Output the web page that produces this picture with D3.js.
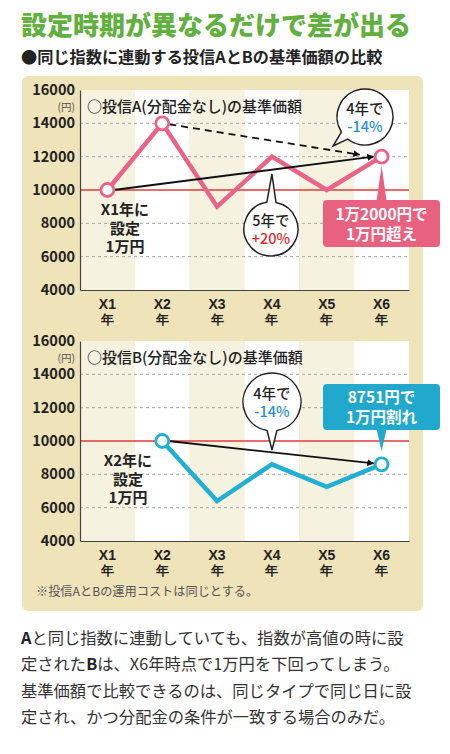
<!DOCTYPE html>
<html>
<head>
<meta charset="utf-8">
<script src="https://cdn.jsdelivr.net/npm/d3@7"></script>
<style>
  body { margin: 0; background: #fff; }
  svg { display: block; font-family: "Noto Sans CJK JP", "Noto Sans", sans-serif; }
</style>
</head>
<body>
<script>
// data
const years = ["X1", "X2", "X3", "X4", "X5", "X6"];
const yTicks = [4000, 6000, 8000, 10000, 12000, 14000, 16000];
const gridValues = [6000, 8000, 12000, 14000];
const fundA = [10000, 14000, 9000, 12000, 10000, 12000];
const fundB = [null, 10000, 6400, 8600, 7250, 8600];
const bodyLines = [
  ["A", "と同じ指数に連動していても、指数が高値の時に設"],
  ["", "定された", "B", "は、X6年時点で1万円を下回ってしまう。"],
  ["", "基準価額で比較できるのは、同じタイプで同じ日に設"],
  ["", "定され、かつ分配金の条件が一致する場合のみだ。"]
];

const W = 450, H = 754;
const pink = "#ea6487", blue = "#22b0d2", red = "#e23b3b";

function main() {
  let svg = d3.select("body").append("svg")
    .attr("width", W)
    .attr("height", H);

  let defs = svg.append("defs");
  defs.append("marker")
    .attr("id", "arr")
    .attr("viewBox", "0 0 10 10")
    .attr("refX", 9).attr("refY", 5)
    .attr("markerWidth", 7).attr("markerHeight", 7)
    .attr("markerUnits", "userSpaceOnUse")
    .attr("orient", "auto")
    .append("path")
    .attr("d", "M0,0 L10,5 L0,10 z")
    .attr("fill", "#111");

  // headline
  svg.append("text")
    .attr("x", 21).attr("y", 35)
    .attr("font-size", 26).attr("font-weight", 900)
    .attr("fill", "#62b140")
    .text("設定時期が異なるだけで差が出る");

  svg.append("text")
    .attr("x", 21).attr("y", 63)
    .attr("font-size", 16.2).attr("font-weight", 700)
    .attr("fill", "#222")
    .text("●同じ指数に連動する投信AとBの基準価額の比較");

  // panel
  svg.append("rect")
    .attr("x", 22).attr("y", 76)
    .attr("width", 401).attr("height", 535)
    .attr("rx", 6)
    .attr("fill", "#efe3b9");

  let xScale = d3.scaleBand().domain(years).range([80, 409]);

  function drawChart(top, values, color, title) {
    let yScale = d3.scaleLinear().domain([4000, 16000]).range([top + 200, top]);
    let g = svg.append("g");

    // stripes
    g.selectAll("rect.stripe")
      .data(years)
      .enter()
      .append("rect")
      .attr("x", d => xScale(d))
      .attr("y", yScale(16000))
      .attr("width", xScale.bandwidth())
      .attr("height", yScale(4000) - yScale(16000))
      .attr("fill", (d, i) => i % 2 === 0 ? "#f6f2e0" : "#ffffff");

    // dashed grid
    g.selectAll("line.grid")
      .data(gridValues)
      .enter()
      .append("line")
      .attr("x1", 80).attr("x2", 409)
      .attr("y1", d => yScale(d)).attr("y2", d => yScale(d))
      .attr("stroke", "#a8a8a8")
      .attr("stroke-width", 1)
      .attr("stroke-dasharray", "3,3");

    // 10000 line
    g.append("line")
      .attr("x1", 80).attr("x2", 409)
      .attr("y1", yScale(10000)).attr("y2", yScale(10000))
      .attr("stroke", red).attr("stroke-width", 1.6);

    // axes
    let yAxis = g.append("g")
      .attr("transform", "translate(80,0)")
      .call(d3.axisLeft(yScale).tickValues(yTicks).tickSize(0).tickPadding(5).tickFormat(d3.format("d")));
    yAxis.select(".domain").attr("stroke", "#444").attr("stroke-width", 1.2);
    yAxis.selectAll("text")
      .attr("font-size", 14.5).attr("font-weight", 700)
      .attr("fill", "#222")
      .attr("font-family", "\"Noto Sans CJK JP\", sans-serif");

    g.append("text")
      .attr("x", 75).attr("y", yScale(16000) + 21)
      .attr("text-anchor", "end")
      .attr("font-size", 10.5).attr("fill", "#555")
      .text("(円)");

    let xAxis = g.append("g")
      .attr("transform", "translate(0," + yScale(4000) + ")")
      .call(d3.axisBottom(xScale).tickSize(0).tickSizeOuter(0).tickFormat(""));
    xAxis.select(".domain").attr("stroke", "#444").attr("stroke-width", 1.2);
    xAxis.selectAll(".tick").append("text")
      .attr("text-anchor", "middle")
      .attr("font-size", 14).attr("font-weight", 700)
      .attr("fill", "#222")
      .attr("y", 19)
      .text(d => d);
    xAxis.selectAll(".tick").append("text")
      .attr("text-anchor", "middle")
      .attr("font-size", 13).attr("font-weight", 700)
      .attr("fill", "#222")
      .attr("y", 34)
      .text("年");

    g.append("text")
      .attr("x", 87).attr("y", yScale(16000) + 22)
      .attr("font-size", 15).attr("font-weight", 500)
      .attr("fill", "#222")
      .text(title);

    let pts = years.map((d, i) => ({ year: d, v: values[i] })).filter(d => d.v !== null);
    let line = d3.line()
      .x(d => xScale(d.year) + xScale.bandwidth() / 2)
      .y(d => yScale(d.v));

    g.append("path")
      .datum(pts)
      .attr("d", line)
      .attr("fill", "none")
      .attr("stroke", color)
      .attr("stroke-width", 4.5)
      .attr("stroke-linejoin", "miter");

    return { g: g, y: yScale, pts: pts };
  }

  function cx(year) { return xScale(year) + xScale.bandwidth() / 2; }

  function markers(g, yScale, list, color) {
    g.selectAll("circle.m")
      .data(list)
      .enter()
      .append("circle")
      .attr("cx", d => cx(d.year))
      .attr("cy", d => yScale(d.v))
      .attr("r", 6.5)
      .attr("fill", "#fff")
      .attr("stroke", color)
      .attr("stroke-width", 2.8);
  }

  function arrow(g, x1, y1, x2, y2, dashed) {
    g.append("line")
      .attr("x1", x1).attr("y1", y1)
      .attr("x2", x2).attr("y2", y2)
      .attr("stroke", "#111").attr("stroke-width", 1.8)
      .attr("stroke-dasharray", dashed ? "7,5" : null)
      .attr("marker-end", "url(#arr)");
  }

  function bubble(g, x, y, r, tx, ty, l1, l2, c2) {
    let th = Math.atan2(ty - y, tx - x);
    let dl = 0.17;
    let p1 = [x + r * Math.cos(th + dl), y + r * Math.sin(th + dl)];
    let p2 = [x + r * Math.cos(th - dl), y + r * Math.sin(th - dl)];
    g.append("path")
      .attr("d", "M" + p1 + " A" + r + "," + r + " 0 1,1 " + p2 + " L" + tx + "," + ty + " Z")
      .attr("fill", "#fff")
      .attr("stroke", "#222")
      .attr("stroke-width", 1.5);
    g.append("text")
      .attr("x", x).attr("y", y - 3)
      .attr("text-anchor", "middle")
      .attr("font-size", 14.5).attr("font-weight", 500)
      .attr("fill", "#222")
      .text(l1);
    g.append("text")
      .attr("x", x).attr("y", y + 15)
      .attr("text-anchor", "middle")
      .attr("font-size", 14.5).attr("font-weight", 500)
      .attr("fill", c2)
      .text(l2);
  }

  function callout(g, x, y, w, h, tipX, tipY, color, l1, l2) {
    let up = tipY < y;
    let baseY = up ? y + 1 : y + h - 1;
    g.append("path")
      .attr("d", "M" + (tipX - 5) + "," + baseY + " L" + tipX + "," + tipY + " L" + (tipX + 5) + "," + baseY + " Z")
      .attr("fill", color);
    g.append("rect")
      .attr("x", x).attr("y", y)
      .attr("width", w).attr("height", h)
      .attr("rx", 4)
      .attr("fill", color);
    g.append("text")
      .attr("x", x + w / 2).attr("y", y + h / 2 - 4)
      .attr("text-anchor", "middle")
      .attr("font-size", 15.5).attr("font-weight", 700)
      .attr("fill", "#fff")
      .text(l1);
    g.append("text")
      .attr("x", x + w / 2).attr("y", y + h / 2 + 16)
      .attr("text-anchor", "middle")
      .attr("font-size", 15.5).attr("font-weight", 700)
      .attr("fill", "#fff")
      .text(l2);
  }

  function note(g, x, y, lines) {
    g.selectAll(null)
      .data(lines)
      .enter()
      .append("text")
      .attr("x", x)
      .attr("y", (d, i) => y + i * 18.5)
      .attr("text-anchor", "middle")
      .attr("font-size", 15).attr("font-weight", 700)
      .attr("fill", "#222")
      .text(d => d);
  }

  // ---- chart A
  let a = drawChart(90, fundA, pink, "○投信A(分配金なし)の基準価額");
  let ya = a.y;
  arrow(a.g, cx("X2") + 7, ya(14000) + 1, cx("X6") - 22, ya(12000) - 2, true);
  arrow(a.g, cx("X1") + 6, ya(10000), cx("X6") - 8, ya(12000), false);
  markers(a.g, ya, [a.pts[0], a.pts[1], a.pts[5]], pink);
  bubble(a.g, 365, 117, 28, 333, 146, "4年で", "-14%", "#2a8fd0");
  bubble(a.g, cx("X4") - 1, 229, 27, cx("X4"), ya(10000) - 16, "5年で", "+20%", "#e02828");
  callout(a.g, 323, 200, 117, 47, cx("X6"), ya(12000) + 9, "#e8617f", "1万2000円で", "1万円超え");
  note(a.g, 125, 215, ["X1年に", "設定", "1万円"]);

  // ---- chart B
  let b = drawChart(341, fundB, blue, "○投信B(分配金なし)の基準価額");
  let yb = b.y;
  arrow(b.g, cx("X2") + 6, yb(10000), cx("X6") - 8, yb(8600) - 1, false);
  markers(b.g, yb, [b.pts[0], b.pts[4]], blue);
  bubble(b.g, 272, 402, 29, 272, 450, "4年で", "-14%", "#2a8fd0");
  callout(b.g, 323, 384, 117, 46, cx("X6"), yb(8600) - 13, "#21a9cd", "8751円で", "1万円割れ");
  note(b.g, 128, 466, ["X2年に", "設定", "1万円"]);

  // footnote
  svg.append("text")
    .attr("x", 36).attr("y", 596)
    .attr("font-size", 12.2)
    .attr("fill", "#555")
    .text("※投信AとBの運用コストは同じとする。");

  // body text
  let body = svg.append("g");
  bodyLines.forEach(function(parts, i) {
    let t = body.append("text")
      .attr("x", 21).attr("y", 644 + i * 26.3)
      .attr("font-size", 16.3)
      .attr("fill", "#333");
    parts.forEach(function(p, j) {
      if (p === "") return;
      let bold = (i === 0 && j === 0) || (i === 1 && j === 2);
      t.append("tspan")
        .attr("font-weight", bold ? 700 : 400)
        .attr("fill", bold ? "#222" : "#333")
        .text(p);
    });
  });
}

main();
</script>
</body>
</html>
